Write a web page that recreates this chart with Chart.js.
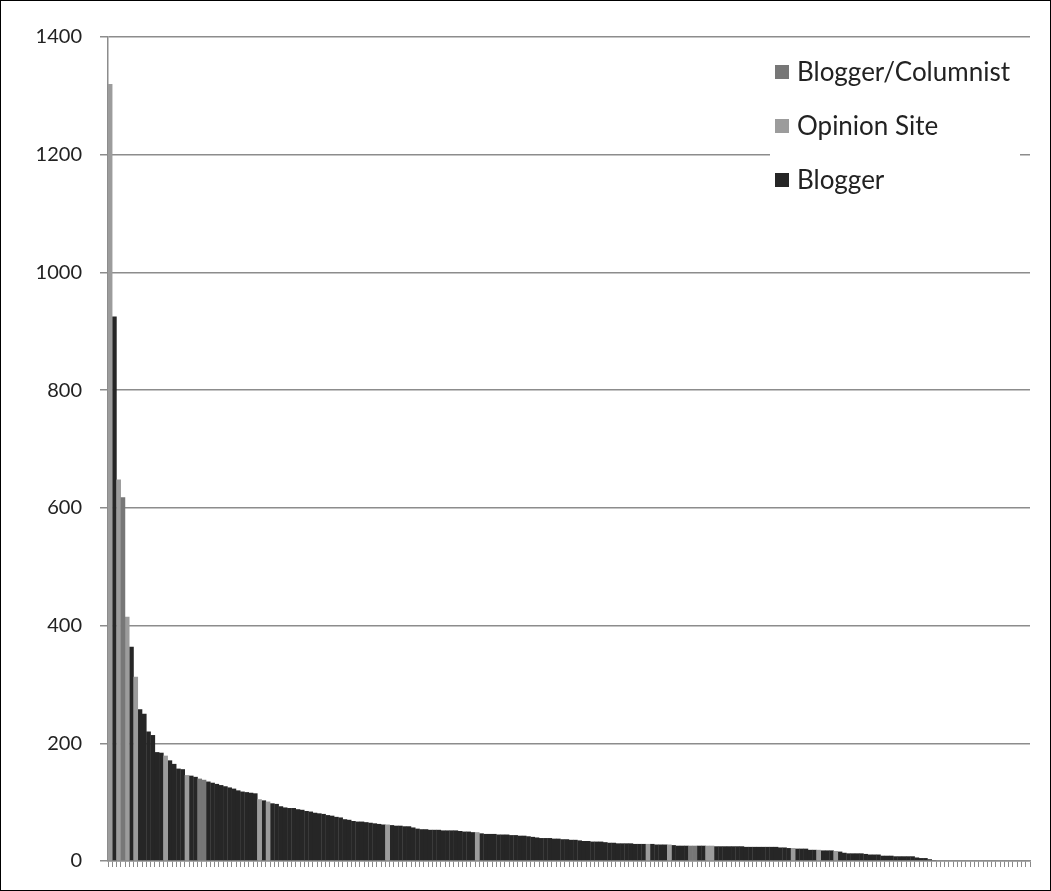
<!DOCTYPE html>
<html>
<head>
<meta charset="utf-8">
<title>Sources by mentions</title>
<script src="https://cdn.jsdelivr.net/npm/chart.js@4.4.1/dist/chart.umd.min.js"></script>
<style>
  html, body { margin: 0; padding: 0; background: #fff; }
  #sources { display: block; outline: 1px solid #000; outline-offset: -1px; }
</style>
</head>
<body>
<canvas id="sources" width="1051" height="891"></canvas>
<script>
// one bar per source, sorted by count
var counts = [
  1320, 925, 648, 618, 415, 364, 313, 258, 250, 220,
  214, 185, 184, 179, 171, 165, 157, 156, 146, 145,
  143, 140, 138, 135, 133, 131, 129, 127, 125, 123,
  120, 118, 117, 116, 115, 105, 103, 101, 98, 97,
  93, 91, 90, 90, 88, 87, 85, 84, 82, 81,
  80, 78, 77, 75, 74, 71, 70, 68, 67, 67,
  66, 65, 64, 63, 62, 62, 61, 60, 60, 59,
  59, 57, 55, 54, 54, 53, 53, 53, 52, 52,
  52, 52, 51, 50, 50, 49, 49, 47, 46, 46,
  46, 45, 45, 45, 44, 44, 43, 43, 42, 41,
  40, 39, 39, 39, 38, 38, 37, 37, 36, 36,
  35, 34, 34, 33, 33, 33, 32, 31, 31, 30,
  30, 30, 30, 29, 29, 29, 29, 29, 28, 28,
  28, 28, 27, 26, 26, 26, 26, 26, 26, 26,
  26, 26, 25, 25, 25, 25, 25, 25, 25, 24,
  24, 24, 24, 24, 24, 24, 24, 23, 23, 22,
  22, 21, 21, 21, 19, 19, 19, 18, 18, 18,
  17, 16, 14, 13, 13, 13, 13, 12, 11, 11,
  11, 9, 9, 9, 8, 8, 8, 8, 8, 6,
  5, 5, 3, 1, 0, 0, 0, 0, 0, 0,
  0, 0, 0, 0, 0, 0, 0, 0, 0, 0,
  0, 0, 0, 0, 0, 0
];

// which bars are not plain bloggers
var opinionSiteBars = [0, 2, 4, 6, 13, 18, 35, 37, 65, 86, 126, 131, 140, 141, 160, 166, 170];
var columnistBars = [3, 21, 22, 136, 137];

var seriesNames = ['Blogger/Columnist', 'Opinion Site', 'Blogger'];
var seriesColors = ['#777777', '#9c9c9c', '#262626'];

var yTicks = [0, 200, 400, 600, 800, 1000, 1200, 1400];

var labels = [];
var kind = [];
for (var i = 0; i < counts.length; i++) {
  labels.push(String(i + 1));
  if (columnistBars.indexOf(i) >= 0) kind.push(0);
  else if (opinionSiteBars.indexOf(i) >= 0) kind.push(1);
  else kind.push(2);
}

var datasets = [];
for (var s = 0; s < seriesNames.length; s++) {
  var d = [];
  for (var j = 0; j < counts.length; j++) {
    d.push(kind[j] === s ? counts[j] : null);
  }
  datasets.push({
    label: seriesNames[s],
    data: d,
    backgroundColor: seriesColors[s],
    borderWidth: 0,
    barPercentage: 1.08,
    categoryPercentage: 1
  });
}

// legend sits inside the plot, on a white box over the grid
var insideLegend = {
  id: 'insideLegend',
  afterDatasetsDraw: function (chart) {
    var c = chart.ctx;
    c.save();
    c.fillStyle = '#fff';
    c.fillRect(770, 48, 250, 152);
    c.font = '26px Lato';
    c.textBaseline = 'middle';
    var rows = [72, 126, 180];
    for (var k = 0; k < chart.data.datasets.length; k++) {
      var ds = chart.data.datasets[k];
      c.fillStyle = ds.backgroundColor;
      c.fillRect(775, rows[k] - 7, 14, 14);
      c.fillStyle = '#222';
      c.fillText(ds.label, 797, rows[k] + 1);
    }
    c.restore();
  }
};

function draw() {
  Chart.defaults.font.family = 'Lato';
  new Chart(document.getElementById('sources'), {
    type: 'bar',
    data: { labels: labels, datasets: datasets },
    plugins: [insideLegend],
    options: {
      responsive: false,
      animation: false,
      devicePixelRatio: 1,
      layout: { padding: { left: 0, top: 37, right: 21, bottom: 0 } },
      plugins: {
        legend: { display: false },
        tooltip: { enabled: false }
      },
      scales: {
        x: {
          stacked: true,
          offset: true,
          grid: {
            display: true,
            drawOnChartArea: false,
            drawTicks: true,
            tickLength: 6,
            color: '#8a8a8a',
            lineWidth: 1
          },
          border: { display: true, color: '#8c8c8c', width: 1.5 },
          ticks: { display: false },
          afterFit: function (scale) { scale.height = 28; }
        },
        y: {
          stacked: true,
          min: 0,
          max: 1400,
          afterBuildTicks: function (scale) {
            scale.ticks = yTicks.map(function (v) { return { value: v }; });
          },
          ticks: {
            font: { size: 20 },
            color: '#222',
            padding: 18,
            callback: function (v) { return String(v); }
          },
          grid: { color: '#8c8c8c', lineWidth: 1.5, tickLength: 8 },
          border: { display: true, color: '#8c8c8c', width: 1.5 },
          afterFit: function (scale) { scale.width = 108; }
        }
      }
    }
  });
}

if (document.fonts && document.fonts.load) {
  document.fonts.load('20px Lato').then(draw, draw);
} else {
  draw();
}
</script>
</body>
</html>
